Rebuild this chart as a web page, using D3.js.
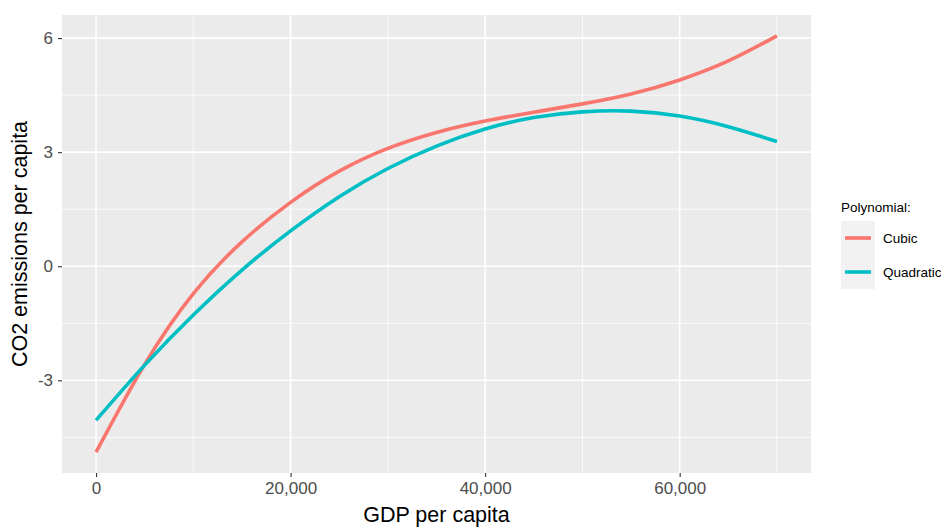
<!DOCTYPE html>
<html>
<head>
<meta charset="utf-8">
<script src="https://cdn.jsdelivr.net/npm/d3@7"></script>
<style>
  html, body { margin: 0; padding: 0; background: #ffffff; }
  svg { display: block; font-family: "Liberation Sans", Arial, sans-serif; }
</style>
</head>
<body>
<svg id="chart" width="941" height="527"></svg>
<script>
// GDP per capita sample points
const gdp = [0, 5000, 10000, 15000, 20000, 25000, 30000, 35000, 40000, 45000, 50000, 55000, 60000, 65000, 70000];
// Fitted CO2 emissions per capita for each polynomial degree
const cubicFit = [-4.89, -2.58, -0.72, 0.64, 1.68, 2.50, 3.10, 3.52, 3.82, 4.05, 4.27, 4.53, 4.90, 5.40, 6.06];
const quadraticFit = [-4.05, -2.60, -1.28, -0.10, 0.93, 1.83, 2.57, 3.16, 3.61, 3.91, 4.06, 4.08, 3.95, 3.67, 3.28];
const seriesNames = ["Cubic", "Quadratic"];
const seriesColors = ["#F8766D", "#00BFC4"];
const xTicks = [0, 20000, 40000, 60000];
const xMinor = [10000, 30000, 50000, 70000];
const yTicks = [-3, 0, 3, 6];
const yMinor = [-4.5, -1.5, 1.5, 4.5];

const series = [cubicFit, quadraticFit].map((vals, i) => ({
  name: seriesNames[i],
  color: seriesColors[i],
  points: gdp.map((g, j) => ({ x: g, y: vals[j] }))
}));

const svg = d3.select("#chart");
const panel = { left: 62, right: 811, top: 15, bottom: 473 };

// ggplot-style 5% expansion of the data range
function expand(ext) {
  const pad = (ext[1] - ext[0]) * 0.05;
  return [ext[0] - pad, ext[1] + pad];
}
const allY = cubicFit.concat(quadraticFit);
const x = d3.scaleLinear().domain(expand(d3.extent(gdp))).range([panel.left, panel.right]);
const y = d3.scaleLinear().domain(expand(d3.extent(allY))).range([panel.bottom, panel.top]);

// panel background
svg.append("rect")
  .attr("x", panel.left).attr("y", panel.top)
  .attr("width", panel.right - panel.left).attr("height", panel.bottom - panel.top)
  .attr("fill", "#EBEBEB");

const grid = svg.append("g");
// minor grid
grid.selectAll("line.xminor").data(xMinor).join("line")
  .attr("x1", d => x(d)).attr("x2", d => x(d))
  .attr("y1", panel.top).attr("y2", panel.bottom)
  .attr("stroke", "#ffffff").attr("stroke-width", 0.8);
grid.selectAll("line.yminor").data(yMinor).join("line")
  .attr("y1", d => y(d)).attr("y2", d => y(d))
  .attr("x1", panel.left).attr("x2", panel.right)
  .attr("stroke", "#ffffff").attr("stroke-width", 0.8);
// major grid
grid.selectAll("line.xmajor").data(xTicks).join("line")
  .attr("x1", d => x(d)).attr("x2", d => x(d))
  .attr("y1", panel.top).attr("y2", panel.bottom)
  .attr("stroke", "#ffffff").attr("stroke-width", 1.6);
grid.selectAll("line.ymajor").data(yTicks).join("line")
  .attr("y1", d => y(d)).attr("y2", d => y(d))
  .attr("x1", panel.left).attr("x2", panel.right)
  .attr("stroke", "#ffffff").attr("stroke-width", 1.6);

// fitted curves
const line = d3.line().x(d => x(d.x)).y(d => y(d.y)).curve(d3.curveNatural);
svg.append("g").selectAll("path").data(series).join("path")
  .attr("d", d => line(d.points))
  .attr("fill", "none")
  .attr("stroke", d => d.color)
  .attr("stroke-width", 3.6)
  .attr("stroke-linecap", "butt");

// axes
const fmt = d3.format(",");
const xAxis = svg.append("g")
  .attr("transform", `translate(0,${panel.bottom})`)
  .call(d3.axisBottom(x).tickValues(xTicks).tickFormat(fmt).tickSize(4).tickPadding(5));
const yAxis = svg.append("g")
  .attr("transform", `translate(${panel.left},0)`)
  .call(d3.axisLeft(y).tickValues(yTicks).tickFormat(d => String(d)).tickSize(4).tickPadding(5));
[xAxis, yAxis].forEach(a => {
  a.select(".domain").remove();
  a.selectAll(".tick line").attr("stroke", "#333333").attr("stroke-width", 1.1);
  a.selectAll(".tick text").attr("fill", "#4D4D4D").style("font-size", "17px")
    .style("font-family", '"Liberation Sans", Arial, sans-serif');
});

// axis titles
svg.append("text")
  .attr("x", (panel.left + panel.right) / 2).attr("y", 522)
  .attr("text-anchor", "middle")
  .style("font-size", "21.5px").attr("fill", "#000000")
  .text("GDP per capita");
svg.append("text")
  .attr("transform", `translate(27,${(panel.top + panel.bottom) / 2}) rotate(-90)`)
  .attr("text-anchor", "middle")
  .style("font-size", "21.5px").attr("fill", "#000000")
  .text("CO2 emissions per capita");

// legend
const legend = svg.append("g").attr("transform", "translate(841,0)");
legend.append("text")
  .attr("x", 0).attr("y", 212)
  .style("font-size", "13.5px").attr("fill", "#000000")
  .text("Polynomial:");
const keys = legend.selectAll("g.key").data(series).join("g")
  .attr("class", "key")
  .attr("transform", (d, i) => `translate(0,${221 + i * 34})`);
keys.append("rect")
  .attr("width", 34).attr("height", 34)
  .attr("fill", "#F2F2F2");
keys.append("line")
  .attr("x1", 4).attr("x2", 30).attr("y1", 17).attr("y2", 17)
  .attr("stroke", d => d.color).attr("stroke-width", 3.6);
keys.append("text")
  .attr("x", 42).attr("y", 17).attr("dy", "0.35em")
  .style("font-size", "13.5px").attr("fill", "#000000")
  .text(d => d.name);
</script>
</body>
</html>
